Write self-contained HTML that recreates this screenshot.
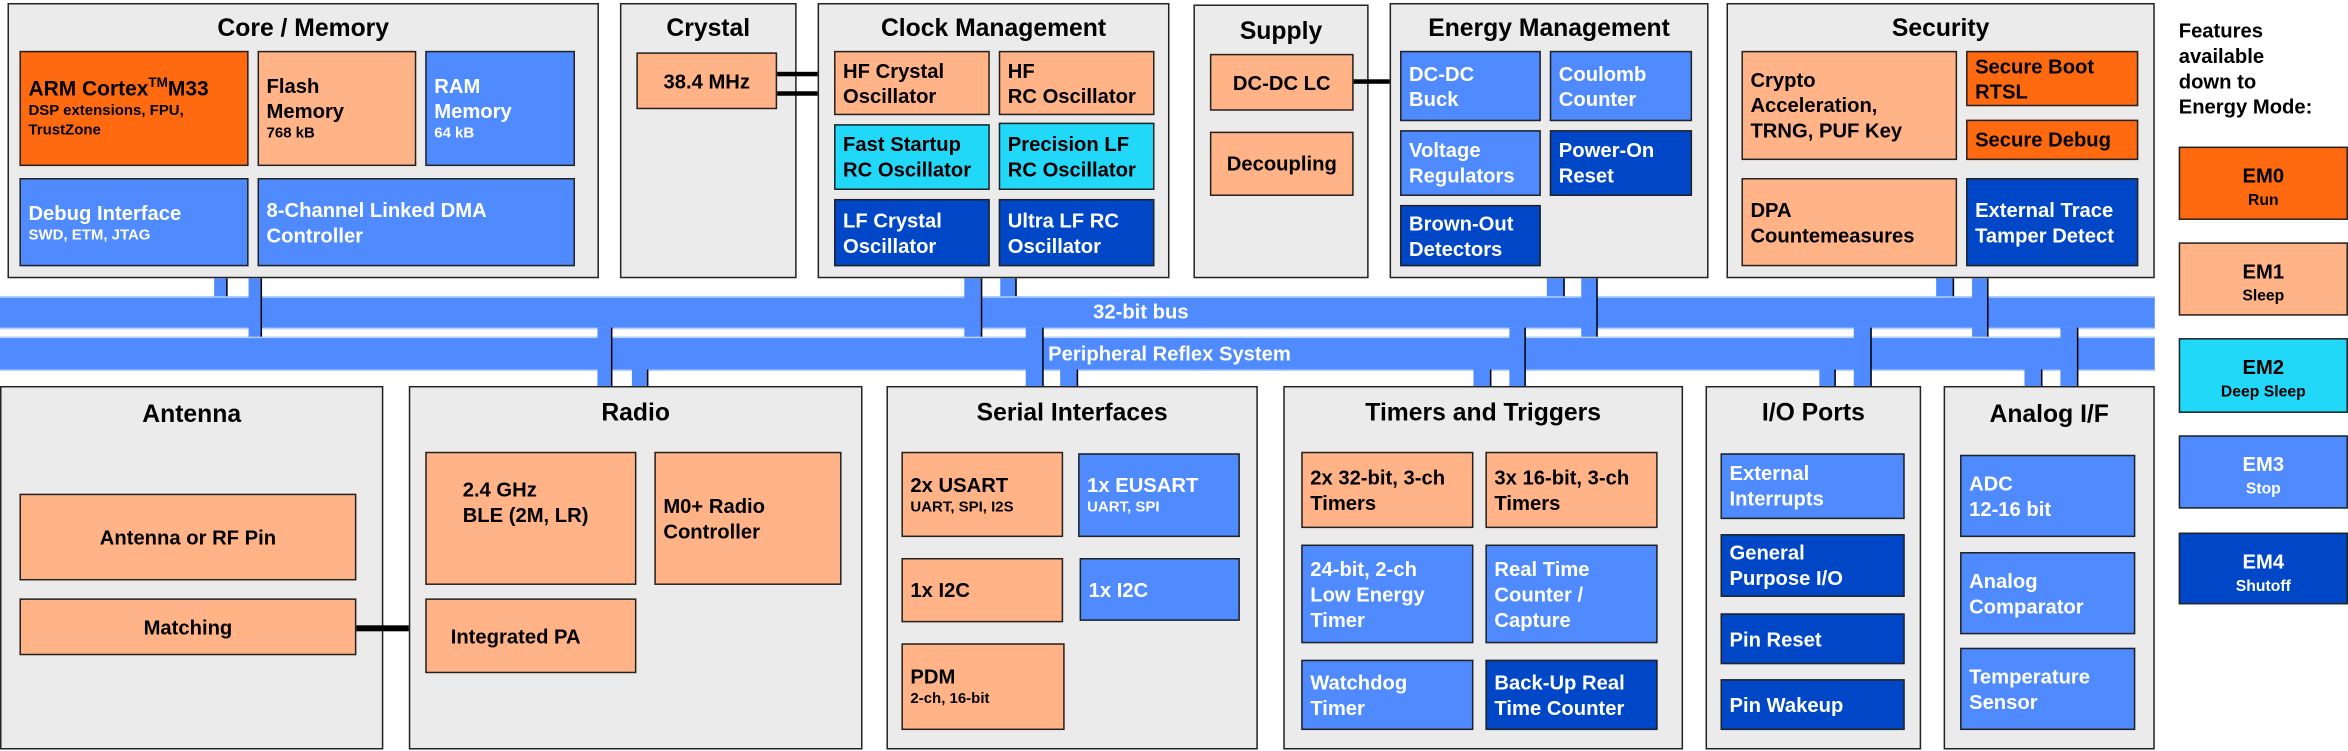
<!DOCTYPE html>
<html><head><meta charset="utf-8"><style>
html,body{margin:0;padding:0;background:#fff;}
body{width:2348px;height:751px;overflow:hidden;position:relative;font-family:"Liberation Sans",Arial,sans-serif;font-weight:bold;}
#s{position:absolute;left:0;top:0;width:1568px;height:502px;transform:scale(1.4974,1.496);transform-origin:0 0;}
#s div{position:absolute;box-sizing:border-box;}
.c{background:#ebebeb;border:1.3px solid #222;}
.t{left:0;right:0;top:7px;text-align:center;font-size:16.5px;color:#000;}
.b{border:1.3px solid #222;display:flex;flex-direction:column;justify-content:center;padding-left:5px;font-size:13.5px;line-height:17px;}
.b small{font-size:10px;line-height:13px;font-weight:bold;}
.o{background:#ff6a10;color:#000;}
.p{background:#ffb387;color:#000;}
.u{background:#4f8bff;color:#fff;}
.d{background:#0047c8;color:#fff;}
.y{background:#22d8f8;color:#000;}
.bus{background:#4f8bff;border-top:1px solid #b8d0ff;border-bottom:1px solid #b8d0ff;color:#fff;font-size:13.5px;line-height:20px;}
.v{background:#4f8bff;border-right:1px solid #000;}
.k{background:#000;}
.em{border:1.5px solid #222;text-align:center;font-size:13.5px;line-height:15px;padding-top:11px;}
.em small{font-size:10.5px;}
</style></head><body><div id="s">

<!-- buses -->
<div class="bus" style="left:0;top:198px;width:1439px;height:22px;"><span style="position:absolute;left:730px;top:0;">32-bit bus</span></div>
<div class="bus" style="left:0;top:225px;width:1439px;height:23px;"><span style="position:absolute;left:700px;top:1px;">Peripheral Reflex System</span></div>

<!-- connectors -->
<div class="v" style="left:143px;top:186px;width:9px;height:12px;"></div>
<div class="v" style="left:166px;top:186px;width:9px;height:39px;"></div>
<div class="v" style="left:644px;top:186px;width:12px;height:39px;"></div>
<div class="v" style="left:668px;top:186px;width:11px;height:12px;"></div>
<div class="v" style="left:1033px;top:186px;width:12px;height:12px;"></div>
<div class="v" style="left:1056px;top:186px;width:11px;height:39px;"></div>
<div class="v" style="left:1293px;top:186px;width:12px;height:12px;"></div>
<div class="v" style="left:1317px;top:186px;width:11px;height:39px;"></div>

<div class="v" style="left:399px;top:219px;width:10px;height:39px;"></div>
<div class="v" style="left:422px;top:247px;width:11px;height:11px;"></div>
<div class="v" style="left:685px;top:219px;width:12px;height:39px;"></div>
<div class="v" style="left:708px;top:247px;width:12px;height:11px;"></div>
<div class="v" style="left:984px;top:247px;width:12px;height:11px;"></div>
<div class="v" style="left:1008px;top:219px;width:11px;height:39px;"></div>
<div class="v" style="left:1215px;top:247px;width:11px;height:11px;"></div>
<div class="v" style="left:1238px;top:219px;width:12px;height:39px;"></div>
<div class="v" style="left:1352px;top:247px;width:12px;height:11px;"></div>
<div class="v" style="left:1376px;top:219px;width:12px;height:39px;"></div>

<!-- Core / Memory -->
<div class="c" style="left:5px;top:2px;width:395px;height:184px;"><div class="t">Core / Memory</div></div>
<div class="b o" style="left:13px;top:34px;width:153px;height:77px;"><span style="display:block;font-size:14px;">ARM Cortex<sup style="font-size:9px;vertical-align:6px;line-height:0;">TM</sup>M33</span><small style="display:block;">DSP extensions, FPU,<br>TrustZone</small></div>
<div class="b p" style="left:172px;top:34px;width:106px;height:77px;"><span style="display:block;">Flash<br>Memory</span><small style="display:block;">768 kB</small></div>
<div class="b u" style="left:284px;top:34px;width:100px;height:77px;"><span style="display:block;">RAM<br>Memory</span><small style="display:block;">64 kB</small></div>
<div class="b u" style="left:13px;top:119px;width:153px;height:59px;"><span style="display:block;">Debug Interface</span><small style="display:block;">SWD, ETM, JTAG</small></div>
<div class="b u" style="left:172px;top:119px;width:212px;height:59px;"><span style="display:block;">8-Channel Linked DMA<br>Controller</span></div>

<!-- Crystal -->
<div class="c" style="left:414px;top:2px;width:118px;height:184px;"><div class="t">Crystal</div></div>
<div class="b p" style="left:425px;top:35px;width:94px;height:38px;align-items:center;padding-left:0;">38.4 MHz</div>
<div class="k" style="left:519px;top:48px;width:38px;height:3px;"></div>
<div class="k" style="left:519px;top:61px;width:38px;height:3px;"></div>

<!-- Clock Management -->
<div class="c" style="left:546px;top:2px;width:235px;height:184px;"><div class="t">Clock Management</div></div>
<div class="b p" style="left:557px;top:34px;width:104px;height:43px;"><span>HF Crystal<br>Oscillator</span></div>
<div class="b p" style="left:667px;top:34px;width:104px;height:43px;"><span>HF<br>RC Oscillator</span></div>
<div class="b y" style="left:557px;top:83px;width:104px;height:44px;"><span>Fast Startup<br>RC Oscillator</span></div>
<div class="b y" style="left:667px;top:82px;width:104px;height:45px;"><span>Precision LF<br>RC Oscillator</span></div>
<div class="b d" style="left:557px;top:133px;width:104px;height:45px;"><span>LF Crystal<br>Oscillator</span></div>
<div class="b d" style="left:667px;top:133px;width:104px;height:45px;"><span>Ultra LF RC<br>Oscillator</span></div>

<!-- Supply -->
<div class="c" style="left:797px;top:3px;width:117px;height:183px;"><div class="t" style="top:8px;">Supply</div></div>
<div class="b p" style="left:808px;top:36px;width:96px;height:38px;align-items:center;padding-left:0;">DC-DC LC</div>
<div class="b p" style="left:808px;top:88px;width:96px;height:43px;align-items:center;padding-left:0;">Decoupling</div>
<div class="k" style="left:904px;top:53px;width:31px;height:3px;"></div>

<!-- Energy Management -->
<div class="c" style="left:928px;top:2px;width:213px;height:184px;"><div class="t">Energy Management</div></div>
<div class="b u" style="left:935px;top:34px;width:94px;height:47px;"><span>DC-DC<br>Buck</span></div>
<div class="b u" style="left:1035px;top:34px;width:95px;height:47px;"><span>Coulomb<br>Counter</span></div>
<div class="b u" style="left:935px;top:87px;width:94px;height:44px;"><span>Voltage<br>Regulators</span></div>
<div class="b d" style="left:1035px;top:87px;width:95px;height:44px;"><span>Power-On<br>Reset</span></div>
<div class="b d" style="left:935px;top:137px;width:94px;height:41px;"><span>Brown-Out<br>Detectors</span></div>

<!-- Security -->
<div class="c" style="left:1153px;top:2px;width:286px;height:184px;"><div class="t">Security</div></div>
<div class="b p" style="left:1163px;top:34px;width:144px;height:73px;"><span>Crypto<br>Acceleration,<br>TRNG, PUF Key</span></div>
<div class="b o" style="left:1313px;top:34px;width:115px;height:37px;"><span>Secure Boot<br>RTSL</span></div>
<div class="b o" style="left:1313px;top:80px;width:115px;height:27px;">Secure Debug</div>
<div class="b p" style="left:1163px;top:119px;width:144px;height:59px;"><span>DPA<br>Countemeasures</span></div>
<div class="b d" style="left:1313px;top:119px;width:115px;height:59px;"><span>External Trace<br>Tamper Detect</span></div>

<!-- Legend -->
<div style="left:1455px;top:12px;width:113px;font-size:13.5px;line-height:17px;color:#000;">Features<br>available<br>down to<br>Energy Mode:</div>
<div class="em o" style="left:1455px;top:98px;width:113px;height:49px;">EM0<br><small>Run</small></div>
<div class="em p" style="left:1455px;top:162px;width:113px;height:49px;">EM1<br><small>Sleep</small></div>
<div class="em y" style="left:1455px;top:226px;width:113px;height:50px;">EM2<br><small>Deep Sleep</small></div>
<div class="em u" style="left:1455px;top:291px;width:113px;height:49px;">EM3<br><small>Stop</small></div>
<div class="em d" style="left:1455px;top:356px;width:113px;height:48px;">EM4<br><small>Shutoff</small></div>

<!-- Antenna -->
<div class="c" style="left:0;top:258px;width:256px;height:243px;"><div class="t" style="top:9px;">Antenna</div></div>
<div class="b p" style="left:13px;top:330px;width:225px;height:58px;align-items:center;padding-left:0;">Antenna or RF Pin</div>
<div class="b p" style="left:13px;top:400px;width:225px;height:38px;align-items:center;padding-left:0;">Matching</div>
<div class="k" style="left:238px;top:418px;width:46px;height:4px;"></div>

<!-- Radio -->
<div class="c" style="left:273px;top:258px;width:303px;height:243px;"><div class="t" style="top:8px;">Radio</div></div>
<div class="b p" style="left:284px;top:302px;width:141px;height:89px;padding-left:24px;justify-content:flex-start;padding-top:16px;"><span>2.4 GHz<br>BLE (2M, LR)</span></div>
<div class="b p" style="left:437px;top:302px;width:125px;height:89px;"><span>M0+ Radio<br>Controller</span></div>
<div class="b p" style="left:284px;top:400px;width:141px;height:50px;padding-left:16px;">Integrated PA</div>

<!-- Serial -->
<div class="c" style="left:592px;top:258px;width:248px;height:243px;"><div class="t" style="top:8px;">Serial Interfaces</div></div>
<div class="b p" style="left:602px;top:302px;width:108px;height:57px;"><span style="display:block;">2x USART</span><small style="display:block;">UART, SPI, I2S</small></div>
<div class="b u" style="left:720px;top:303px;width:108px;height:56px;"><span style="display:block;">1x EUSART</span><small style="display:block;">UART, SPI</small></div>
<div class="b p" style="left:602px;top:373px;width:108px;height:43px;">1x I2C</div>
<div class="b u" style="left:721px;top:373px;width:107px;height:42px;">1x I2C</div>
<div class="b p" style="left:602px;top:430px;width:109px;height:58px;"><span style="display:block;">PDM</span><small style="display:block;">2-ch, 16-bit</small></div>

<!-- Timers -->
<div class="c" style="left:857px;top:258px;width:267px;height:243px;"><div class="t" style="top:8px;">Timers and Triggers</div></div>
<div class="b p" style="left:869px;top:302px;width:115px;height:51px;"><span>2x 32-bit, 3-ch<br>Timers</span></div>
<div class="b p" style="left:992px;top:302px;width:115px;height:51px;"><span>3x 16-bit, 3-ch<br>Timers</span></div>
<div class="b u" style="left:869px;top:364px;width:115px;height:66px;"><span>24-bit, 2-ch<br>Low Energy<br>Timer</span></div>
<div class="b u" style="left:992px;top:364px;width:115px;height:66px;"><span>Real Time<br>Counter /<br>Capture</span></div>
<div class="b u" style="left:869px;top:441px;width:115px;height:47px;"><span>Watchdog<br>Timer</span></div>
<div class="b d" style="left:992px;top:441px;width:115px;height:47px;"><span>Back-Up Real<br>Time Counter</span></div>

<!-- I/O -->
<div class="c" style="left:1139px;top:258px;width:144px;height:243px;"><div class="t" style="top:8px;">I/O Ports</div></div>
<div class="b u" style="left:1149px;top:303px;width:123px;height:44px;"><span>External<br>Interrupts</span></div>
<div class="b d" style="left:1149px;top:357px;width:123px;height:42px;"><span>General<br>Purpose I/O</span></div>
<div class="b d" style="left:1149px;top:410px;width:123px;height:34px;">Pin Reset</div>
<div class="b d" style="left:1149px;top:454px;width:123px;height:34px;">Pin Wakeup</div>

<!-- Analog -->
<div class="c" style="left:1298px;top:258px;width:141px;height:243px;"><div class="t" style="top:9px;">Analog I/F</div></div>
<div class="b u" style="left:1309px;top:304px;width:117px;height:55px;"><span>ADC<br>12-16 bit</span></div>
<div class="b u" style="left:1309px;top:369px;width:117px;height:55px;"><span>Analog<br>Comparator</span></div>
<div class="b u" style="left:1309px;top:433px;width:117px;height:55px;"><span>Temperature<br>Sensor</span></div>

</div></body></html>
